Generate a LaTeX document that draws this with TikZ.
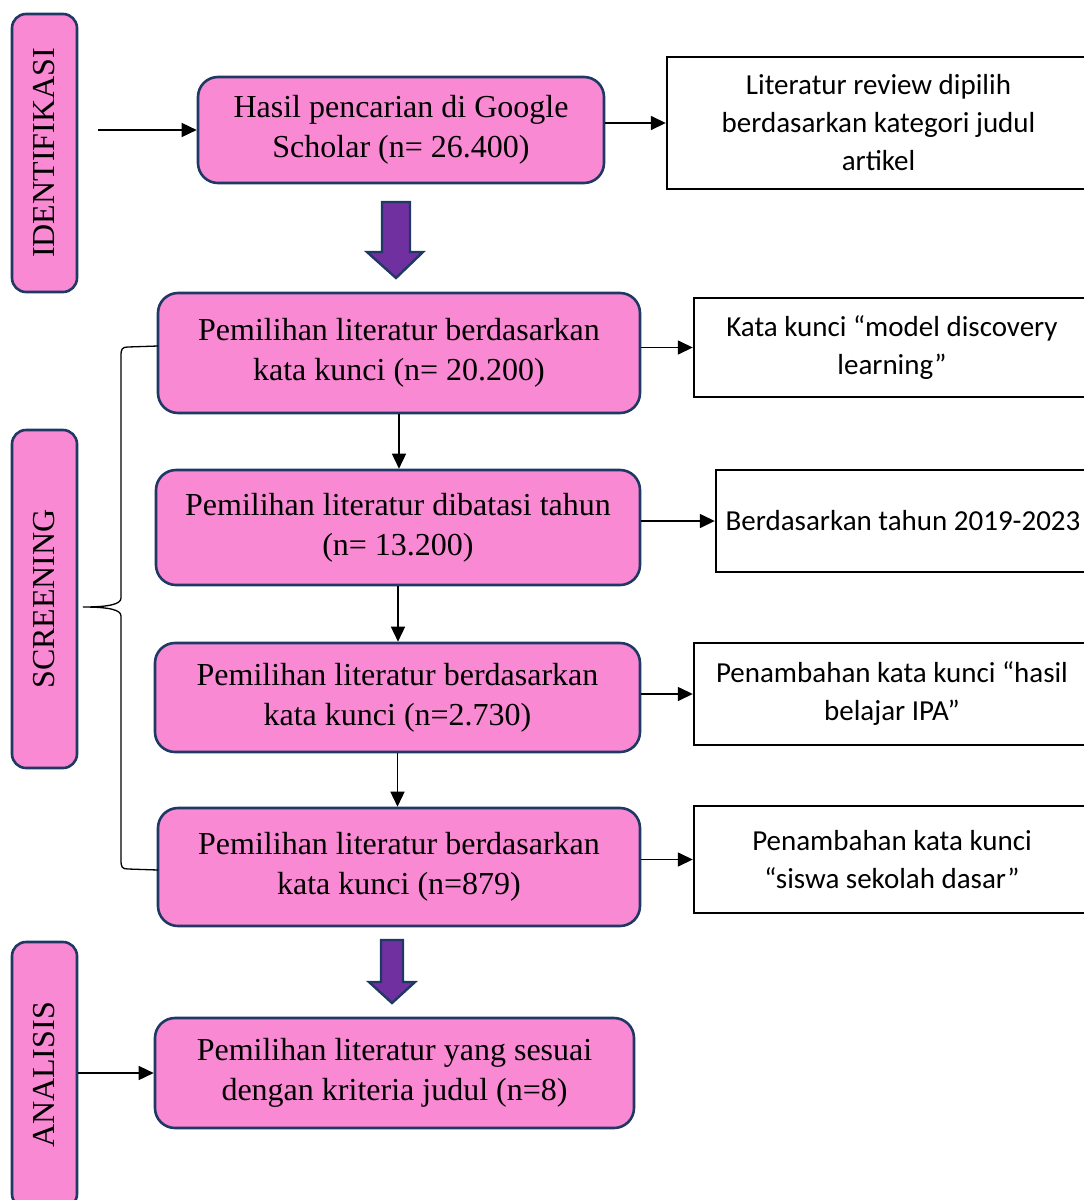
\documentclass[tikz,border=0pt]{standalone}
\usepackage{fontspec}
\setmainfont{Liberation Serif}
\newfontfamily\calib{Carlito}
\usepackage{tikz}
\usetikzlibrary{positioning}
\usetikzlibrary{arrows.meta}
\definecolor{boxpink}{RGB}{248,137,210}
\definecolor{boxnavy}{RGB}{31,56,100}
\definecolor{arrpurple}{RGB}{112,48,160}

\begin{document}
\begin{tikzpicture}[x=1pt,y=-1pt]
        \tikzstyle{stage}=[draw=boxnavy, line width=2.6pt, fill=boxpink,
            rounded corners=20pt, align=center, inner sep=0pt,
            font=\fontsize{32}{40}\selectfont]
        \tikzstyle{phase}=[stage, rotate=90, rounded corners=14pt]
        \tikzstyle{note}=[draw=black, line width=2.4pt, fill=white,
            align=center, inner sep=0pt, font=\calib\fontsize{29}{38}\selectfont]
        \tikzstyle{flow}=[-{Triangle[length=15pt,width=14pt]}, line width=1.5pt]
        \tikzstyle{bigarrow}=[draw=boxnavy, line width=2.4pt, fill=arrpurple]

            \useasboundingbox (0,0) rectangle (1084,1200);

            % phases on the left
            \node[phase, minimum width=278pt, minimum height=65pt] (ident) at (44.5,153) {IDENTIFIKASI};
            \node[phase, minimum width=338pt, minimum height=65pt] (screen) at (44.5,599) {SCREENING};
            \node[phase, minimum width=266pt, minimum height=65pt] (anal) at (44.5,1075) {ANALISIS};

            % main steps
            \node[stage, minimum width=406pt, minimum height=106pt] (b1) at (401,130)
            {Hasil pencarian di Google\\Scholar (n= 26.400)};
            \node[stage, minimum width=482pt, minimum height=120pt] (b2) at (399,353)
            {Pemilihan literatur berdasarkan\\kata kunci (n= 20.200)};
            \node[stage, minimum width=484pt, minimum height=115pt] (b3) at (398,527.5)
            {Pemilihan literatur dibatasi tahun\\(n= 13.200)};
            \node[stage, minimum width=485pt, minimum height=109pt] (b4) at (397.5,697.5)
            {Pemilihan literatur berdasarkan\\kata kunci (n=2.730)};
            \node[stage, minimum width=482pt, minimum height=118pt] (b5) at (399,867)
            {Pemilihan literatur berdasarkan\\kata kunci (n=879)};
            \node[stage, minimum width=479pt, minimum height=110pt] (b6) at (394.5,1073)
            {Pemilihan literatur yang sesuai\\dengan kriteria judul (n=8)};

            % notes on the right
            \node[note, minimum width=423pt, minimum height=132pt] (r1) at (878.5,123)
            {Literatur review dipilih\\berdasarkan kategori judul\\artikel};
            \node[note, minimum width=396pt, minimum height=99pt] (r2) at (892,347.5)
            {Kata kunci “model discovery\\learning”};
            \node[note, minimum width=374pt, minimum height=102pt] (r3) at (903,521)
            {Berdasarkan tahun 2019-2023};
            \node[note, minimum width=396pt, minimum height=102pt] (r4) at (892,694)
            {Penambahan kata kunci “hasil\\belajar IPA”};
            \node[note, minimum width=396pt, minimum height=107pt] (r5) at (892,859.5)
            {Penambahan kata kunci\\“siswa sekolah dasar”};

            % connectors
            \coordinate (start) at (98,130);
            \draw[flow] (start) -- (b1.west);
            \draw[flow] (b1.east |- r1.west) -- (r1.west);
            \draw[flow] (b2.east |- r2.west) -- (r2.west);
            \draw[flow] (b3.east |- r3.west) -- (r3.west);
            \draw[flow] (b4.east |- r4.west) -- (r4.west);
            \draw[flow] (b5.east |- r5.west) -- (r5.west);
            \draw[flow] (b2.south) -- (b2.south |- b3.north);
            \draw[flow] (b3.south) -- (b3.south |- b4.north);
            \draw[flow] (b4.south) -- (b4.south |- b5.north);
            \draw[flow] (b6.west -| anal.south) -- (b6.west);

            % big arrows
            \draw[bigarrow] (382,202) -- (410,202) -- (410,252) -- (423,252)
            -- (396,278) -- (367,252) -- (382,252) -- cycle;
            \draw[bigarrow] (381,940) -- (403,940) -- (403,982) -- (415,982)
            -- (392,1003) -- (369,982) -- (381,982) -- cycle;

            % brace
            \draw[line width=1.3pt] (158,346) -- (128,347)
            .. controls (122,347) and (121,349) .. (121,356) -- (121,598)
            .. controls (121,604) and (110,607) .. (83,607)
            .. controls (110,607) and (121,610) .. (121,616) -- (121,860)
            .. controls (121,867) and (122,869) .. (128,869) -- (158,870);
        \end{tikzpicture}
\end{document}
